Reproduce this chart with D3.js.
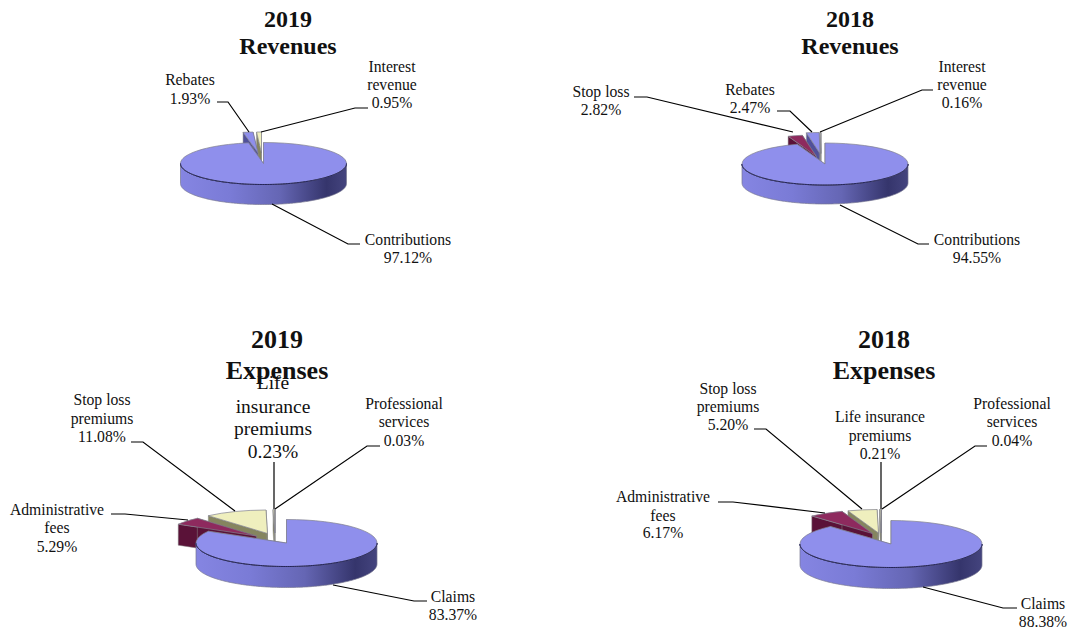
<!DOCTYPE html>
<html>
<head>
<meta charset="utf-8">
<script src="https://cdn.jsdelivr.net/npm/d3@7"></script>
<style>
html, body { margin: 0; padding: 0; background: #fff; }
svg { display: block; }
text { font-family: "Liberation Serif", serif; fill: #111; }
</style>
</head>
<body>
<div id="chart"></div>
<script>
// values (percent of total)
var revenueNames2019 = ["Contributions", "Rebates", "Interest revenue"];
var revenueValues2019 = [97.12, 1.93, 0.95];
var revenueNames2018 = ["Contributions", "Stop loss", "Rebates", "Interest revenue"];
var revenueValues2018 = [94.55, 2.82, 2.47, 0.16];
var expenseNames2019 = ["Claims", "Administrative fees", "Stop loss premiums", "Life insurance premiums", "Professional services"];
var expenseValues2019 = [83.37, 5.29, 11.08, 0.23, 0.03];
var expenseNames2018 = ["Claims", "Administrative fees", "Stop loss premiums", "Life insurance premiums", "Professional services"];
var expenseValues2018 = [88.38, 6.17, 5.20, 0.21, 0.04];

var blue = "#8f8fec", maroon = "#8e2a5e", cream = "#efefbe";
var sideColor = {};
sideColor[blue] = "#50509a";
sideColor[maroon] = "#5a1238";
sideColor[cream] = "#85855f";

// one entry per pie: geometry first, then per-slice layout
var charts = [
  {
    title: ["2019", "Revenues"], titleX: 288, titleY: [19, 46], titleSize: 24,
    names: revenueNames2019, values: revenueValues2019, colors: [blue, blue, cream],
    cx: 263.5, cy: 163.5, rx: 83, ry: 21, depth: 20,
    shifts: [[0, 0], [-5.5, -10.5], [-2, -10.5]],
    labels: [
      { lines: ["Contributions"], x: 408, y: [240, 258], leader: [[272, 204], [348, 244], [360, 244]] },
      { lines: ["Rebates"], x: 190, y: [80, 99], leader: [[217, 102], [228, 102], [249, 132]] },
      { lines: ["Interest", "revenue"], x: 392, y: [67, 85, 103], leader: [[368, 108], [355, 108], [261, 132]] }
    ]
  },
  {
    title: ["2018", "Revenues"], titleX: 850, titleY: [19, 46], titleSize: 24,
    names: revenueNames2018, values: revenueValues2018, colors: [blue, maroon, blue, cream],
    cx: 825, cy: 164, rx: 83, ry: 21, depth: 19,
    shifts: [[0, 0], [-9, -8], [-5, -10.5], [-4, -10.5]],
    labels: [
      { lines: ["Contributions"], x: 977, y: [240, 258], leader: [[840, 205], [918, 244], [929, 244]] },
      { lines: ["Stop loss"], x: 601, y: [92, 110], leader: [[634, 97], [647, 97], [793, 132]] },
      { lines: ["Rebates"], x: 750, y: [90, 108], leader: [[777, 111], [790, 111], [812, 132]] },
      { lines: ["Interest", "revenue"], x: 962, y: [67, 85, 103], leader: [[933, 90], [922, 90], [820, 132]] }
    ]
  },
  {
    title: ["2019", "Expenses"], titleX: 277, titleY: [339, 370], titleSize: 26,
    names: expenseNames2019, values: expenseValues2019, colors: [blue, maroon, cream, cream, cream],
    cx: 286.5, cy: 543, rx: 90.5, ry: 23.5, depth: 21,
    shifts: [[0, 0], [-30, -7], [-19, -9.5], [-12, -10], [-11.5, -10]],
    labels: [
      { lines: ["Claims"], x: 453, y: [597, 615], leader: [[333, 585], [414, 601], [427, 601]] },
      { lines: ["Administrative", "fees"], x: 57, y: [510, 528, 547], leader: [[111, 514], [125, 514], [188, 520]] },
      { lines: ["Stop loss", "premiums"], x: 102, y: [400, 419, 437], leader: [[131, 442], [143, 442], [235, 511]] },
      { lines: ["Life", "insurance", "premiums"], x: 273, y: [383, 407, 429, 452], size: 19.5, leader: [[274, 462], [274, 509]] },
      { lines: ["Professional", "services"], x: 404, y: [404, 422, 441], leader: [[380, 446], [367, 446], [275, 509]] }
    ]
  },
  {
    title: ["2018", "Expenses"], titleX: 884, titleY: [339, 370], titleSize: 26,
    names: expenseNames2018, values: expenseValues2018, colors: [blue, maroon, cream, cream, cream],
    cx: 891, cy: 544, rx: 91, ry: 23.5, depth: 21,
    shifts: [[0, 0], [-18.5, -10.5], [-12.5, -11], [-10, -11], [-9.5, -11]],
    labels: [
      { lines: ["Claims"], x: 1043, y: [604, 622], leader: [[923, 587], [1003, 608], [1017, 608]] },
      { lines: ["Administrative", "fees"], x: 663, y: [497, 516, 533], leader: [[718, 502], [733, 502], [825, 513]] },
      { lines: ["Stop loss", "premiums"], x: 728, y: [389, 407, 425], leader: [[754, 429], [766, 429], [862, 509]] },
      { lines: ["Life insurance", "premiums"], x: 880, y: [417, 436, 454], leader: [[881, 462], [881, 509]] },
      { lines: ["Professional", "services"], x: 1012, y: [404, 422, 441], leader: [[987, 446], [975, 446], [882, 509]] }
    ]
  }
];

var svg = d3.select("#chart").append("svg")
  .attr("width", 1068)
  .attr("height", 631);

// shading of the outer wall of the pie, light on the left and dark on the right
var defs = svg.append("defs");
var wallStops = {};
wallStops[blue] = ["#8585e2", "#7a7bd6", "#6566b4", "#35356c", "#44447e"];
wallStops[maroon] = ["#6a1a44", "#6a1a44", "#5a1238", "#3c0c26", "#3c0c26"];
wallStops[cream] = ["#a5a578", "#a5a578", "#85855f", "#60603f", "#60603f"];
[blue, maroon, cream].forEach(function(c, i) {
  var g = defs.append("linearGradient")
    .attr("id", "wall" + i)
    .attr("x1", 0).attr("x2", 1).attr("y1", 0).attr("y2", 0);
  [0, 0.3, 0.6, 0.88, 1].forEach(function(o, j) {
    g.append("stop").attr("offset", o).attr("stop-color", wallStops[c][j]);
  });
});
function wallFill(c) {
  return "url(#wall" + [blue, maroon, cream].indexOf(c) + ")";
}

var pie = d3.pie().sort(null);
var lineGen = d3.line();
var pct = d3.format(".2f");

charts.forEach(function(ch) {
  var g = svg.append("g");
  var slices = pie(ch.values);

  function pt(a) {
    return [ch.rx * Math.sin(a), -ch.ry * Math.cos(a)];
  }

  // later slices sit behind the earlier ones
  d3.range(slices.length - 1, -1, -1).forEach(function(i) {
    var s = slices[i];
    var c = ch.colors[i];
    var sg = g.append("g")
      .attr("transform", "translate(" + (ch.cx + ch.shifts[i][0]) + "," + (ch.cy + ch.shifts[i][1]) + ")");

    // flat cut faces
    [s.startAngle, s.endAngle].forEach(function(a) {
      var p = pt(a);
      sg.append("path")
        .attr("d", lineGen([[0, 0], p, [p[0], p[1] + ch.depth], [0, ch.depth]]) + "Z")
        .attr("fill", sideColor[c])
        .attr("stroke", "#8a8a8a")
        .attr("stroke-width", 0.5);
    });

    // outer wall, only the part that faces the front
    var a0 = Math.max(s.startAngle, Math.PI / 2);
    var a1 = Math.min(s.endAngle, Math.PI * 1.5);
    if (a1 > a0) {
      var top = d3.range(a0, a1, 0.02).concat([a1]).map(pt);
      var bottom = top.map(function(p) { return [p[0], p[1] + ch.depth]; }).reverse();
      sg.append("path")
        .attr("d", lineGen(top.concat(bottom)) + "Z")
        .attr("fill", wallFill(c))
        .attr("stroke", "#77778f")
        .attr("stroke-width", 0.7);
      sg.append("path")
        .attr("d", lineGen(top))
        .attr("fill", "none")
        .attr("stroke", "#23235a")
        .attr("stroke-width", 1);
    }

    // top face, a circular arc squashed into an ellipse
    sg.append("path")
      .attr("transform", "scale(1," + (ch.ry / ch.rx) + ")")
      .attr("d", d3.arc().innerRadius(0).outerRadius(ch.rx)(s))
      .attr("fill", c)
      .attr("stroke", "#7f7f8c")
      .attr("stroke-width", 0.7)
      .attr("vector-effect", "non-scaling-stroke");
  });

  // redraw the front rim of the big slice over its top face
  var first = slices[0];
  var rim = d3.range(Math.PI / 2, Math.min(first.endAngle, Math.PI * 1.5), 0.02).map(pt);
  g.append("path")
    .attr("transform", "translate(" + ch.cx + "," + ch.cy + ")")
    .attr("d", lineGen(rim))
    .attr("fill", "none")
    .attr("stroke", "#23235a")
    .attr("stroke-width", 1);

  // leader lines
  g.selectAll("path.leader")
    .data(ch.labels)
    .enter()
    .append("path")
    .attr("class", "leader")
    .attr("d", function(d) { return lineGen(d.leader); })
    .attr("fill", "none")
    .attr("stroke", "#000")
    .attr("stroke-width", 1.2);

  // data labels, name lines and then the percentage
  ch.labels.forEach(function(l, i) {
    var rows = l.lines.concat([pct(ch.values[i]) + "%"]);
    rows.forEach(function(r, j) {
      g.append("text")
        .attr("x", l.x)
        .attr("y", l.y[j])
        .attr("dy", "0.33em")
        .attr("text-anchor", "middle")
        .attr("font-size", (l.size || 15.7) + "px")
        .text(r);
    });
  });

  // title goes on last, as the labels in the source run under it
  ch.title.forEach(function(t, j) {
    g.append("text")
      .attr("x", ch.titleX)
      .attr("y", ch.titleY[j])
      .attr("dy", "0.33em")
      .attr("text-anchor", "middle")
      .attr("font-size", ch.titleSize + "px")
      .attr("font-weight", "bold")
      .text(t);
  });
});
</script>
</body>
</html>
